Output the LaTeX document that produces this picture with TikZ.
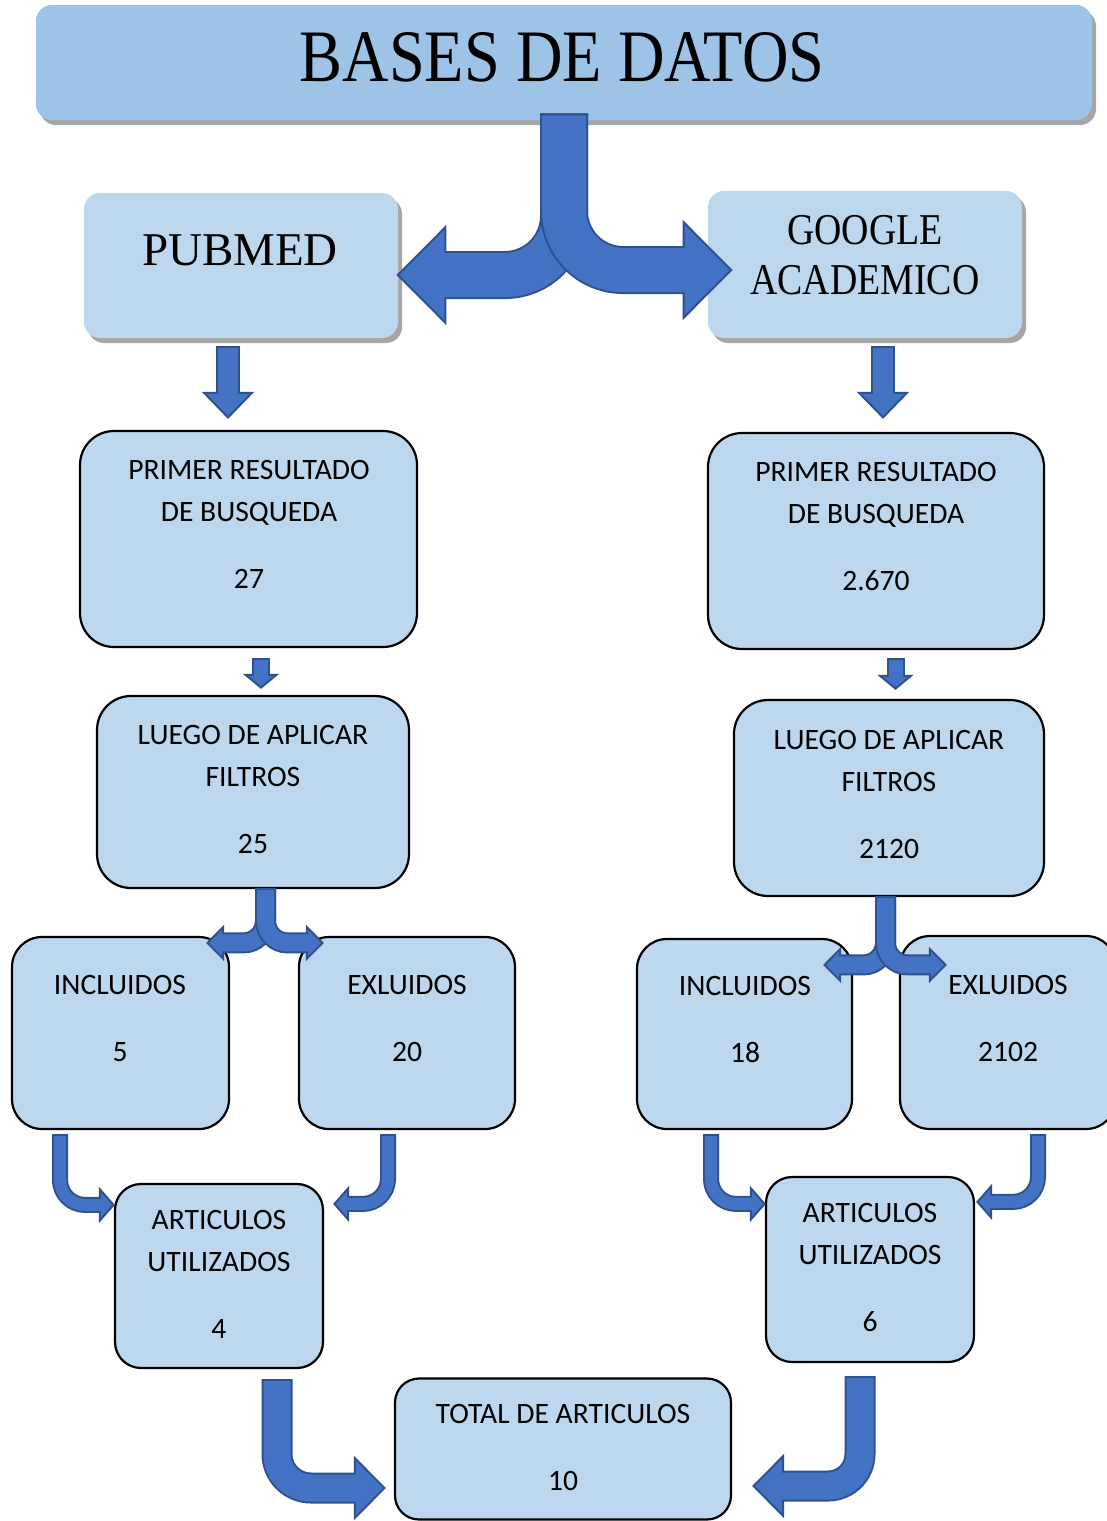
\documentclass[tikz,border=0pt]{standalone}
\usepackage{fontspec}
\setmainfont{Carlito}
\newfontfamily\titlefont{Liberation Serif}
\usetikzlibrary{arrows.meta,shadows}

\definecolor{basefill}{HTML}{9DC3E6}
\definecolor{boxfill}{HTML}{BDD7EE}
\definecolor{arrfill}{HTML}{4472C4}
\definecolor{arrline}{HTML}{2F528F}
\definecolor{shadowgray}{HTML}{A6A6A6}

\tikzset{
  box/.style={draw=black, line width=1.1pt, fill=boxfill, inner sep=0pt},
  head/.style={fill=#1, inner sep=0pt, rounded corners=8pt,
    drop shadow={shadow xshift=2pt, shadow yshift=-2.5pt, fill=shadowgray, opacity=1}},
  txt/.style={align=center, inner sep=0pt, font=\fontsize{14.8}{21}\selectfont},
  % block arrow: total width, inner width, head length, head width, corner radius
  fat/.style n args={5}{draw=arrline, line width=#1, rounded corners=#5,
    -{Triangle[length=#3, width=#4, fill=arrfill, line width=1pt]},
    postaction={draw=arrfill, line width=#2, -, shorten <=1pt, shorten >=#3-1.5pt}}
}

\begin{document}
\begin{tikzpicture}[x=0.5pt, y=-0.5pt]
  \useasboundingbox (0,0) rectangle (1107,1521);

  % boxes
  \node[head=basefill, minimum width=528pt, minimum height=57.5pt] (bd) at (564,62.5) {};
  \node[head=boxfill, minimum width=157pt, minimum height=72.5pt] (pm) at (241,265.5) {};
  \node[head=boxfill, minimum width=157pt, minimum height=73.5pt] (ga) at (865,264.5) {};

  \node[box, rounded corners=17pt, minimum width=168.5pt, minimum height=108pt] (r1) at (248.5,539) {};
  \node[box, rounded corners=17pt, minimum width=168pt, minimum height=108pt] (r2) at (876,541) {};
  \node[box, rounded corners=17pt, minimum width=156pt, minimum height=96pt] (f1) at (253,792) {};
  \node[box, rounded corners=17pt, minimum width=155pt, minimum height=98pt] (f2) at (889,798) {};
  \node[box, rounded corners=15pt, minimum width=108.5pt, minimum height=96pt] (i1) at (120.5,1033) {};
  \node[box, rounded corners=15pt, minimum width=108pt, minimum height=96pt] (e1) at (407,1033) {};
  \node[box, rounded corners=15pt, minimum width=107.5pt, minimum height=95pt] (i2) at (744.5,1034) {};
  \node[box, rounded corners=15pt, minimum width=108pt, minimum height=96.5pt] (e2) at (1008,1032.5) {};
  \node[box, rounded corners=13pt, minimum width=104pt, minimum height=92pt] (a1) at (219,1276) {};
  \node[box, rounded corners=13pt, minimum width=104pt, minimum height=92.5pt] (a2) at (870,1269.5) {};
  \node[box, rounded corners=12pt, minimum width=168pt, minimum height=70.5pt] (t) at (563,1449) {};

  % texts
  \node[inner sep=0pt, font=\titlefont\fontsize{37}{40}\selectfont] (bdt) at (562,57) {\scalebox{0.87}[1]{BASES DE DATOS}};
  \node[inner sep=0pt, font=\titlefont\fontsize{23.5}{26}\selectfont] (pmt) at (240,250) {PUBMED};
  \node[align=center, inner sep=0pt, font=\titlefont\fontsize{22}{25}\selectfont] (gat) at (865,255)
    {\scalebox{0.86}[1]{GOOGLE}\\\scalebox{0.86}[1]{ACADEMICO}};
  \node[txt] (r1t) at (249,524.5) {PRIMER RESULTADO\\DE BUSQUEDA\\[12.5pt]27};
  \node[txt] (r2t) at (876,526.5) {PRIMER RESULTADO\\DE BUSQUEDA\\[12.5pt]2.670};
  \node[txt] (f1t) at (253,789.5) {LUEGO DE APLICAR\\FILTROS\\[12.5pt]25};
  \node[txt] (f2t) at (889,794) {LUEGO DE APLICAR\\FILTROS\\[12.5pt]2120};
  \node[txt] (i1t) at (120,1018.5) {INCLUIDOS\\[12.5pt]5};
  \node[txt] (e1t) at (407,1018.5) {EXLUIDOS\\[12.5pt]20};
  \node[txt] (i2t) at (745,1019.5) {INCLUIDOS\\[12.5pt]18};
  \node[txt] (e2t) at (1008,1018.5) {EXLUIDOS\\[12.5pt]2102};
  \node[txt] (a1t) at (219,1274.5) {ARTICULOS\\UTILIZADOS\\[12.5pt]4};
  \node[txt] (a2t) at (870,1267.5) {ARTICULOS\\UTILIZADOS\\[12.5pt]6};
  \node[txt] (tt) at (563,1447.5) {TOTAL DE ARTICULOS\\[12.5pt]10};

  % split from the top box
  \draw[fat={24pt}{22pt}{25pt}{50pt}{29.5pt}] ([yshift=3.5pt]bd.south) |- ([xshift=-1pt, yshift=-4.75pt]pm.east);
  \draw[fat={24pt}{22pt}{25pt}{50pt}{29.5pt}] ([yshift=3.5pt]bd.south) |- ([xshift=12.5pt, yshift=-2.75pt]ga.west);

  % straight down
  \draw[fat={12pt}{10pt}{13.5pt}{26pt}{0pt}] ([xshift=-6.5pt, yshift=-4pt]pm.south) -- ([xshift=-10.25pt, yshift=5.5pt]r1.north);
  \draw[fat={12pt}{10pt}{13.5pt}{26pt}{0pt}] ([xshift=9pt, yshift=-4pt]ga.south) -- ([xshift=3.5pt, yshift=6.5pt]r2.north);
  \draw[fat={9pt}{7pt}{7.5pt}{18pt}{0pt}] ([xshift=6.25pt, yshift=-5pt]r1.south) -- ([xshift=4pt, yshift=3pt]f1.north);
  \draw[fat={9pt}{7pt}{7.5pt}{18pt}{0pt}] ([xshift=9.75pt, yshift=-4pt]r2.south) -- ([xshift=3.25pt, yshift=4.5pt]f2.north);

  % small splits
  \draw[fat={10.5pt}{8.5pt}{9pt}{18pt}{11pt}] ([xshift=6.25pt, yshift=0.5pt]f1.south) |- ([xshift=-12pt, yshift=-3.5pt]i1.north east);
  \draw[fat={10.5pt}{8.5pt}{9pt}{18pt}{11pt}] ([xshift=6.25pt, yshift=0.5pt]f1.south) |- ([xshift=13pt, yshift=-3.5pt]e1.north west);
  \draw[fat={10.5pt}{8.5pt}{9pt}{18pt}{11pt}] ([xshift=-1.75pt, yshift=0.5pt]f2.south) |- ([xshift=-15pt, yshift=-13.5pt]i2.north east);
  \draw[fat={10.5pt}{8.5pt}{9pt}{18pt}{11pt}] ([xshift=-1.75pt, yshift=0.5pt]f2.south) |- ([xshift=24pt, yshift=-15pt]e2.north west);

  % into the used articles
  \draw[fat={8pt}{6pt}{8pt}{18pt}{12.5pt}] ([xshift=-30.25pt, yshift=-2pt]i1.south) |- ([xshift=0.5pt, yshift=-11pt]a1.north west);
  \draw[fat={8pt}{6pt}{8pt}{18pt}{12.5pt}] ([xshift=-9.5pt, yshift=-2pt]e1.south) |- ([xshift=4.5pt, yshift=-10.5pt]a1.north east);
  \draw[fat={8pt}{6pt}{8pt}{18pt}{12.5pt}] ([xshift=-16.75pt, yshift=-2pt]i2.south) |- ([xshift=0.5pt, yshift=-14pt]a2.north west);
  \draw[fat={8pt}{6pt}{8pt}{18pt}{12.5pt}] ([xshift=15pt, yshift=-2pt]e2.south) |- ([xshift=0.5pt, yshift=-13pt]a2.north east);

  % into the total
  \draw[fat={15.5pt}{13.5pt}{16pt}{32pt}{17pt}] ([xshift=29pt, yshift=-5pt]a1.south) |- ([xshift=-4pt, yshift=-19.5pt]t.west);
  \draw[fat={15.5pt}{13.5pt}{16pt}{32pt}{16pt}] ([xshift=-5pt, yshift=-6.5pt]a2.south) |- ([xshift=10pt, yshift=-18.5pt]t.east);
\end{tikzpicture}
\end{document}
